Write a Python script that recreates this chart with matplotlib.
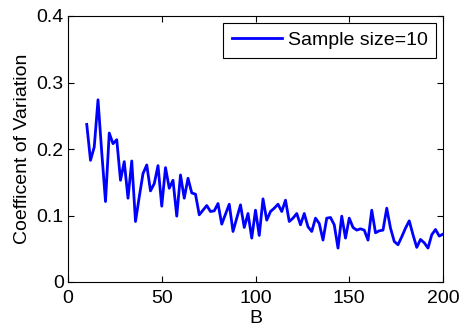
import matplotlib
matplotlib.use("Agg")
import matplotlib.pyplot as plt

plt.rcParams['font.family'] = ['Liberation Sans', 'DejaVu Sans']

B = list(range(10, 201, 2))
cv = [0.237, 0.183, 0.203, 0.274, 0.195, 0.121, 0.224, 0.208, 0.214, 0.153,
      0.181, 0.126, 0.182, 0.091, 0.128, 0.163, 0.176, 0.137, 0.148, 0.175,
      0.114, 0.172, 0.141, 0.153, 0.099, 0.161, 0.126, 0.156, 0.134, 0.132,
      0.101, 0.108, 0.115, 0.106, 0.107, 0.118, 0.087, 0.102, 0.117, 0.076,
      0.096, 0.116, 0.082, 0.103, 0.066, 0.108, 0.070, 0.125, 0.093, 0.106,
      0.111, 0.117, 0.106, 0.123, 0.091, 0.096, 0.103, 0.086, 0.103, 0.083,
      0.076, 0.096, 0.088, 0.063, 0.096, 0.097, 0.086, 0.051, 0.099, 0.066,
      0.096, 0.082, 0.078, 0.080, 0.078, 0.063, 0.108, 0.074, 0.077, 0.078,
      0.111, 0.081, 0.061, 0.056, 0.068, 0.081, 0.092, 0.071, 0.052, 0.064,
      0.059, 0.051, 0.071, 0.079, 0.069, 0.072]
xticks = [0, 50, 100, 150, 200]
yticks = [0, 0.1, 0.2, 0.3, 0.4]
ytick_labels = ['0', '0.1', '0.2', '0.3', '0.4']

fs = 14
fig = plt.figure(figsize=(4.61, 3.27), dpi=100)
ax = fig.add_axes([68/461, 1-282/327, 375/461, 266/327])
ax.plot(B, cv, color='#0000ff', lw=2, label='Sample size=10')
ax.set_xlim(0, 200)
ax.set_ylim(0, 0.4)
ax.set_xticks(xticks)
ax.set_yticks(yticks)
ax.set_yticklabels(ytick_labels)
ax.tick_params(direction='in', top=True, right=True, labelsize=fs, length=4, width=0.8, pad=3)
ax.tick_params(axis='x', pad=6)
for s in ax.spines.values():
    s.set_linewidth(0.8)
ax.set_xlabel('B', fontsize=fs, labelpad=2)
ax.set_ylabel('Coefficent of Variation', fontsize=fs, labelpad=4)
leg = ax.legend(loc='upper right', fontsize=fs, fancybox=False, edgecolor='black',
                framealpha=1, handlelength=2.55, handletextpad=0.3,
                borderaxespad=0.35, borderpad=0.45)
leg.get_frame().set_linewidth(0.8)
fig.savefig('out.png', dpi=100)
